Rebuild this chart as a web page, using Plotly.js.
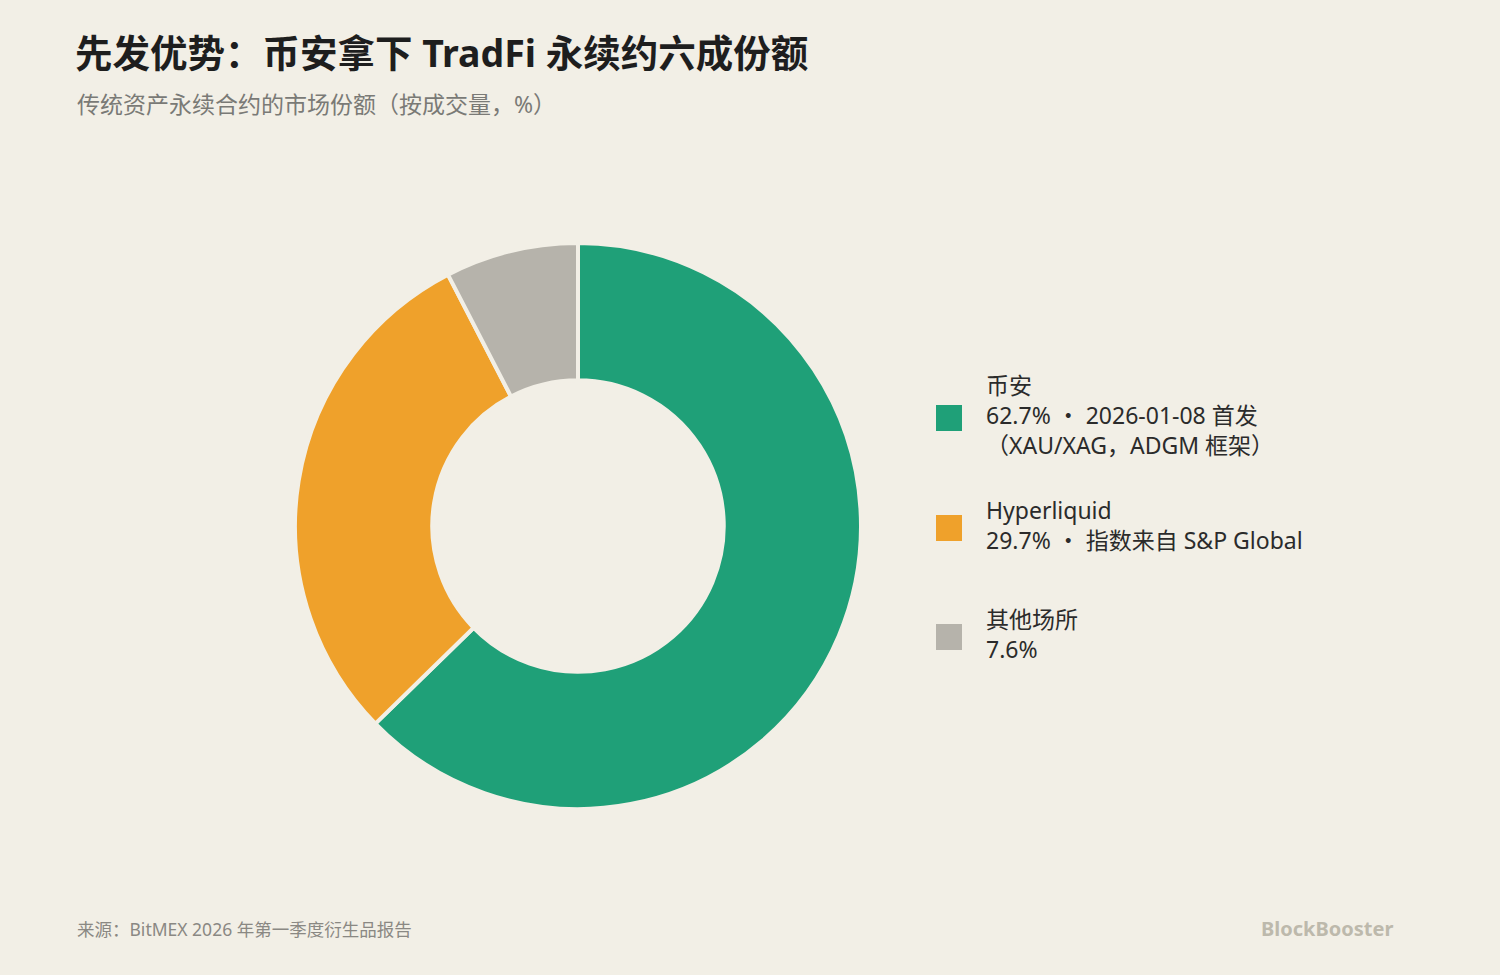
<!DOCTYPE html>
<html>
<head>
<meta charset="utf-8">
<script src="https://cdn.plot.ly/plotly-3.0.1.min.js"></script>
<style>
  html, body { margin: 0; padding: 0; background: #F2EFE6; }
  #chart { width: 1500px; height: 975px; }
</style>
</head>
<body>
<div id="chart"></div>
<script>
// ---- data ----
const labels = ['币安', 'Hyperliquid', '其他场所'];
const values = [62.7, 29.7, 7.6];
const notes = ['2026-01-08 首发<br>（XAU/XAG，ADGM 框架）', '指数来自 S&P Global', ''];
const colors = ['#1FA078', '#EFA12B', '#B6B3AB'];
const titleText = '先发优势：币安拿下 TradFi 永续约六成份额';
const subtitleText = '传统资产永续合约的市场份额（按成交量，%）';
const sourceText = '来源：BitMEX 2026 年第一季度衍生品报告';
const brandText = 'BlockBooster';

// ---- layout helpers ----
const W = 1500, H = 975;
const FONT = '"Noto Sans", "Noto Sans CJK SC", sans-serif';
const BG = '#F2EFE6';
const px = x => x / W;
const py = y => 1 - y / H;

const trace = {
  type: 'pie',
  labels: labels,
  values: values,
  sort: false,
  direction: 'clockwise',
  rotation: 0,
  hole: 0.515,
  marker: { colors: colors, line: { color: BG, width: 4 } },
  textinfo: 'none',
  hoverinfo: 'label+percent',
  showlegend: false,
  domain: { x: [px(578 - 283), px(578 + 283)], y: [py(526 + 283), py(526 - 283)] }
};

const annotations = [];
const shapes = [];

// custom legend
const itemCenters = [415, 525, 634];
labels.forEach((lab, i) => {
  const line2 = values[i].toFixed(1) + '%' + (notes[i] ? ' ・ ' + notes[i] : '');
  const yc = itemCenters[i];
  annotations.push({
    xref: 'paper', yref: 'paper', x: px(984), y: py(yc),
    xanchor: 'left', yanchor: 'middle', align: 'left', showarrow: false,
    text: lab + '<br>' + line2,
    font: { family: FONT, size: 23, color: '#2B2B2B' }
  });
  shapes.push({
    type: 'rect', xref: 'paper', yref: 'paper', layer: 'above',
    x0: px(936), x1: px(962), y0: py(yc + 16), y1: py(yc - 10),
    fillcolor: colors[i], line: { width: 0 }
  });
});

// subtitle, footer, brand
annotations.push({
  xref: 'paper', yref: 'paper', x: px(75), y: py(104), xanchor: 'left', yanchor: 'middle',
  showarrow: false, text: subtitleText, font: { family: FONT, size: 23, color: '#7A7A76' }
});
annotations.push({
  xref: 'paper', yref: 'paper', x: px(75), y: py(929), xanchor: 'left', yanchor: 'middle',
  showarrow: false, text: sourceText, font: { family: FONT, size: 17.5, color: '#8A8883' }
});
annotations.push({
  xref: 'paper', yref: 'paper', x: px(1395), y: py(928), xanchor: 'right', yanchor: 'middle',
  showarrow: false, text: '<b>' + brandText + '</b>', font: { family: FONT, size: 20, color: '#BDB9AC' }
});

const layout = {
  width: W, height: H,
  margin: { l: 0, r: 0, t: 0, b: 0 },
  paper_bgcolor: BG, plot_bgcolor: BG,
  title: {
    text: '<b>' + titleText + '</b>',
    xref: 'paper', yref: 'container', x: px(75), y: 1 - 54 / H,
    xanchor: 'left', yanchor: 'middle',
    font: { family: FONT, size: 37.5, color: '#1E1E1E' }
  },
  showlegend: false,
  annotations: annotations,
  shapes: shapes
};

Plotly.newPlot('chart', [trace], layout, { displayModeBar: false, staticPlot: true });
</script>
</body>
</html>
